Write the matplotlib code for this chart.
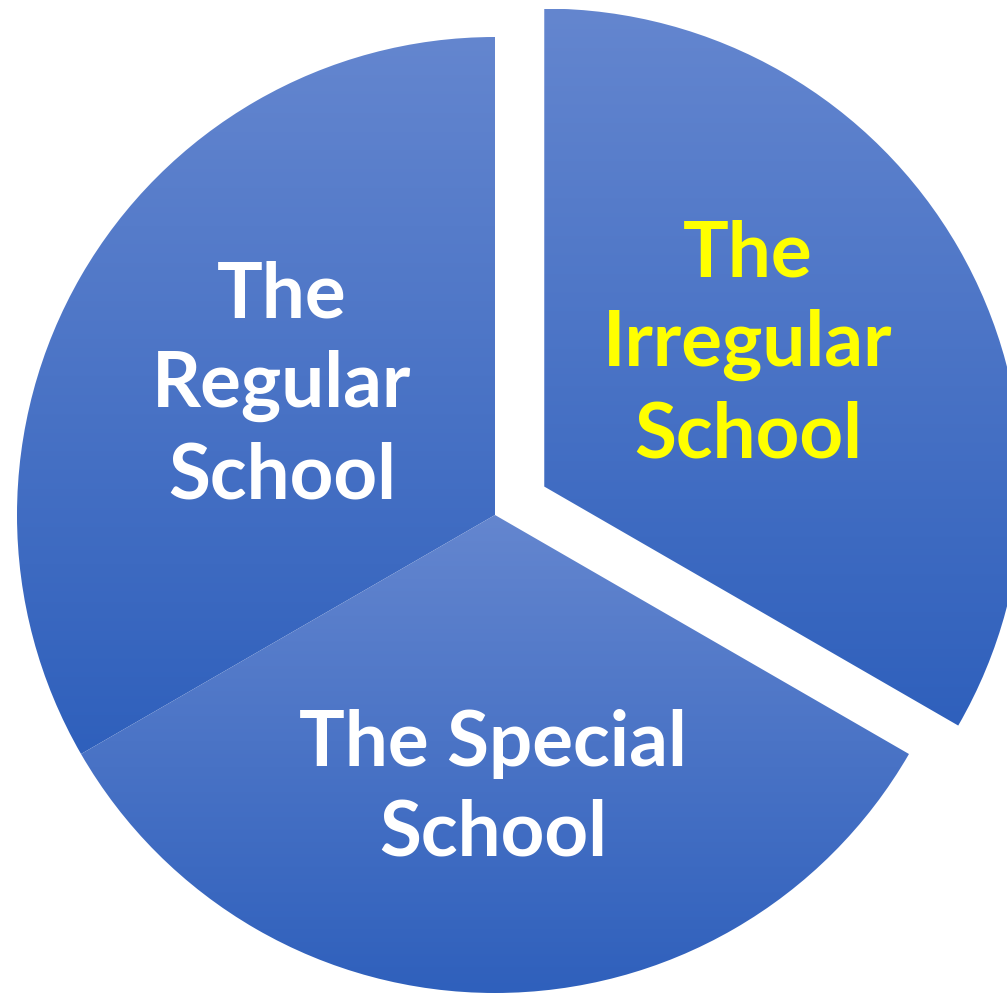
import numpy as np
import matplotlib
matplotlib.use("Agg")
import matplotlib.pyplot as plt
from matplotlib.colors import LinearSegmentedColormap

categories = ["The\nRegular\nSchool", "The Special\nSchool", "The\nIrregular\nSchool"]
values = [1, 1, 1]
explode = [0, 0, 0.119]
text_colors = ["white", "white", "#ffff00"]

W, H = 1007, 993
R = 478.0
cx, cy = 495.0, 515.0

fig = plt.figure(figsize=(W / 100, H / 100), dpi=100)
ax = fig.add_axes([0, 0, 1, 1])
ax.set_xlim(-cx / R, (W - cx) / R)
ax.set_ylim(-(H - cy) / R, cy / R)
ax.set_aspect("equal")
ax.axis("off")

wedges, _ = ax.pie(values, explode=explode, startangle=90, counterclock=True,
                   radius=1, center=(0, 0), wedgeprops=dict(linewidth=0, edgecolor="none"))
ax.set_xlim(-cx / R, (W - cx) / R)
ax.set_ylim(-(H - cy) / R, cy / R)

cmap = LinearSegmentedColormap.from_list("g", ["#2f60bc", "#6486cf"])
grad = np.linspace(0, 1, 256).reshape(-1, 1)
for w in wedges:
    w.set_facecolor("none")
    bb = w.get_window_extent(fig.canvas.get_renderer()).transformed(ax.transData.inverted())
    im = ax.imshow(grad, cmap=cmap, origin="lower", aspect="auto",
                   extent=[bb.x0, bb.x1, bb.y0, bb.y1], zorder=1, interpolation="bilinear")
    im.set_clip_path(w)

def px(x, y):
    return ((x - cx) / R, (cy - y) / R)

label_pos = [(282, 386), (493, 789), (748, 345)]
for lab, (x, y), c in zip(categories, label_pos, text_colors):
    tx, ty = px(x, y)
    ax.text(tx, ty, lab, ha="center", va="center", color=c, fontsize=55,
            fontweight="bold", family="Lato", linespacing=1.34, zorder=3)

fig.savefig("out.png", dpi=100)
